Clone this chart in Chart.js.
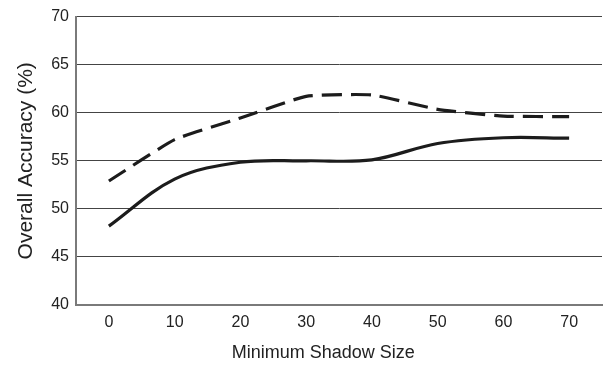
<!DOCTYPE html>
<html>
<head>
<meta charset="utf-8">
<script src="https://cdn.jsdelivr.net/npm/chart.js@4.4.1/dist/chart.umd.min.js"></script>
<style>
  html, body { margin:0; padding:0; background:#fff; }
  #wrap { width:605px; height:367px; }
</style>
</head>
<body>
<div id="wrap"><canvas id="chart" width="605" height="367"></canvas></div>
<script>
const shadowSize = [0, 10, 20, 30, 40, 50, 60, 70];
const solidSeries = [48.2, 53.1, 54.85, 55.0, 55.1, 56.8, 57.4, 57.35];
const dashedSeries = [52.9, 57.2, 59.45, 61.7, 61.85, 60.35, 59.65, 59.6];
const xTicks = [0, 10, 20, 30, 40, 50, 60, 70];
const yTicks = [40, 45, 50, 55, 60, 65, 70];
const xTitle = 'Minimum Shadow Size';
const yTitle = 'Overall Accuracy (%)';

const toPts = ys => shadowSize.map((x, i) => ({ x, y: ys[i] }));
const fam = 'Liberation Sans, Arial, sans-serif';
const font = { family: fam, size: 16 };

// x title sits a bit left of the plot centre in the original
const xTitlePlugin = {
  id: 'xTitle',
  afterDraw(chart) {
    const { ctx, chartArea } = chart;
    ctx.save();
    ctx.font = '18px ' + fam;
    ctx.fillStyle = '#222';
    ctx.textAlign = 'center';
    ctx.textBaseline = 'middle';
    ctx.fillText(xTitle, chartArea.left + chartArea.width * 0.47, 353);
    ctx.restore();
  }
};

new Chart(document.getElementById('chart'), {
  type: 'line',
  data: {
    datasets: [
      { data: toPts(dashedSeries), borderColor:'#1c1c1c', borderWidth:3.2, borderDash:[20,9],
        pointRadius:0, tension:0.15, fill:false },
      { data: toPts(solidSeries), borderColor:'#1c1c1c', borderWidth:3.2,
        pointRadius:0, tension:0.35, fill:false }
    ]
  },
  options: {
    responsive:false, animation:false,
    layout:{ padding:{ top:6, right:3, left:0, bottom:0 } },
    plugins:{ legend:{ display:false }, tooltip:{ enabled:false } },
    scales:{
      x:{
        type:'linear', min:-5, max:75,
        afterBuildTicks: s => { s.ticks = xTicks.map(v => ({ value:v })); },
        afterFit: s => { s.height = 62; },
        grid:{ display:false, drawTicks:false },
        border:{ color:'#7a7a7a', width:2 },
        ticks:{ color:'#222', font, padding:8, maxRotation:0 }
      },
      y:{
        min:40, max:70,
        afterBuildTicks: s => { s.ticks = yTicks.map(v => ({ value:v })); },
        afterFit: s => { s.width = 76; },
        grid:{ color:'#444', lineWidth:1, drawTicks:false },
        border:{ color:'#7a7a7a', width:2 },
        ticks:{ color:'#222', font, padding:7 },
        title:{ display:true, text:yTitle, color:'#222',
          font:{ family:fam, size:21 }, padding:{ top:14, bottom:0 } }
      }
    }
  },
  plugins:[xTitlePlugin]
});
</script>
</body>
</html>
